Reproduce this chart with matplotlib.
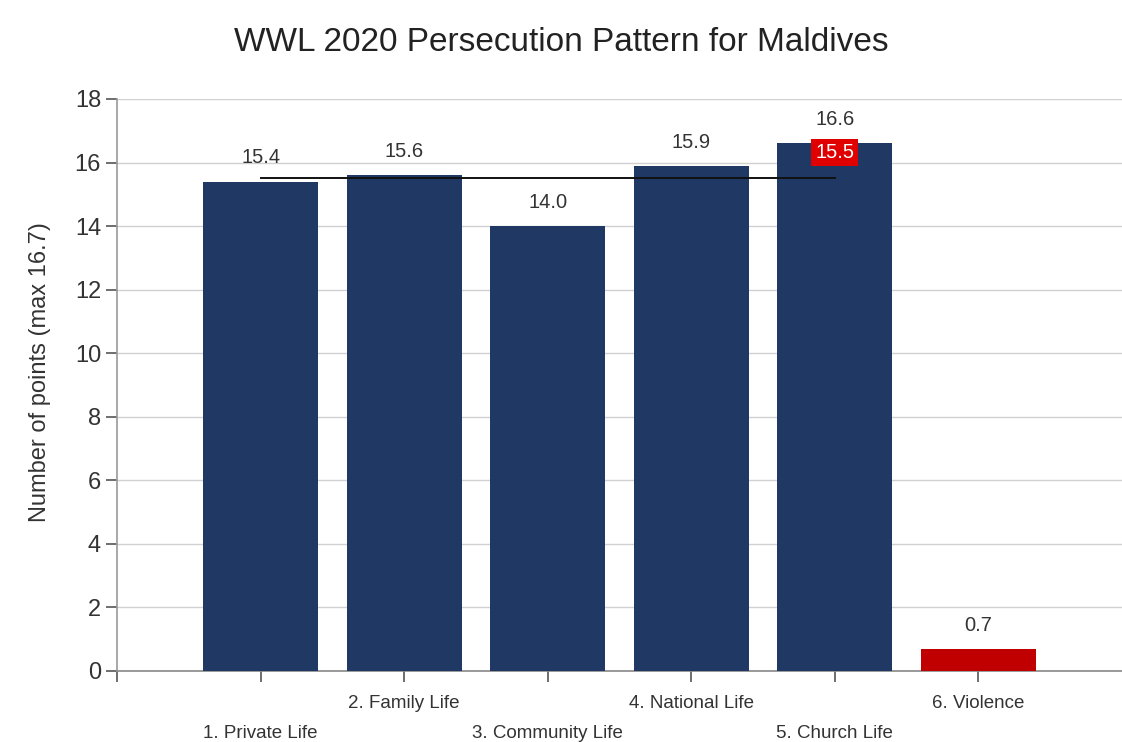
import matplotlib
matplotlib.use("Agg")
import matplotlib.pyplot as plt

categories = ["1. Private Life", "2. Family Life", "3. Community Life",
              "4. National Life", "5. Church Life", "6. Violence"]
values = [15.4, 15.6, 14.0, 15.9, 16.6, 0.7]
bar_colors = ["#1f3864", "#1f3864", "#1f3864", "#1f3864", "#1f3864", "#c00000"]
average_value = 15.5
average_label = "15.5"
title = "WWL 2020 Persecution Pattern for Maldives"
ylabel = "Number of points (max 16.7)"
yticks = [0, 2, 4, 6, 8, 10, 12, 14, 16, 18]

plt.rcParams['font.family'] = ['Liberation Sans', 'DejaVu Sans']

fig = plt.figure(figsize=(11.22, 7.42), dpi=100)
ax = fig.add_axes([0.1043, 0.0957, 0.8957, 0.7709])

x = list(range(len(categories)))
ax.bar(x, values, width=0.8, color=bar_colors, zorder=3)

for xi, v in zip(x, values):
    ax.annotate(f"{v:.1f}", (xi, v), xytext=(0, 17), textcoords="offset points",
                ha="center", va="center", fontsize=14.5, color="#333333", zorder=5)

# average line across the first five dimensions
ax.plot([x[0], x[4]], [average_value, average_value], color="#111111", lw=1.4, zorder=4)
ax.text(x[4], 16.33, average_label, ha="center", va="center", fontsize=14.5, color="white",
        zorder=6, bbox=dict(boxstyle="square,pad=0.2", fc="#e00000", ec="none"))

ax.set_xlim(-1, 6)
ax.set_ylim(0, 18)
ax.set_yticks(yticks)
ax.set_yticklabels([str(t) for t in yticks], fontsize=17, color="#333333")
ax.yaxis.grid(True, color="#d0d0d0", lw=1.0, zorder=0)
ax.set_axisbelow(True)

ax.set_xticks([-1] + x)
labels = [""] + categories
ax.set_xticklabels(labels, fontsize=13.5, color="#333333")
for i, lab in enumerate(ax.get_xticklabels()[1:]):
    lab.set_y(-0.066 if i % 2 == 0 else -0.0125)

ax.tick_params(axis="both", direction="out", length=8, color="#555555", width=1.2)
ax.tick_params(axis="x", pad=4)

for s in ["top", "right"]:
    ax.spines[s].set_visible(False)
ax.spines["left"].set_color("#999999")
ax.spines["bottom"].set_color("#888888")
ax.spines["left"].set_linewidth(1.2)
ax.spines["bottom"].set_linewidth(1.2)

fig.text(40 / 1122, 1 - 372 / 742, ylabel, rotation=90, ha="center", va="center",
         fontsize=17, color="#333333")
fig.suptitle(title, fontsize=24, color="#222222", y=0.943, va="center")

fig.savefig("out.png", dpi=100)
